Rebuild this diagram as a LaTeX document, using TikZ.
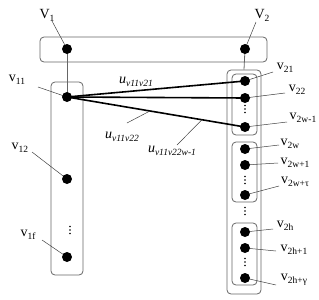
\documentclass[tikz,border=0pt]{standalone}
\usepackage{fontspec}
\setmainfont{Liberation Serif}
\newcommand\mysb[1]{\raisebox{-3pt}{\fontsize{9.5}{10}\selectfont #1}}
\begin{document}
\begin{tikzpicture}[x=1pt,y=-1pt,
  dot/.style={circle,fill=black,inner sep=0pt,minimum size=10pt},
  boxn/.style={draw=black!60,rounded corners=4pt,line width=0.8pt,rectangle,inner sep=0pt},
  lab/.style={font=\fontsize{14}{16}\selectfont,inner sep=0pt},
  lead/.style={draw=black!75,line width=0.5pt},
  conn/.style={draw=black!60,line width=0.8pt},
  edg/.style={draw=black,line width=1.6pt}]
\useasboundingbox (0,0) rectangle (319,300);
% boxes
\node[boxn,minimum width=227pt,minimum height=25pt] (top) at (153.5,49.5) {};
\node[boxn,minimum width=32pt,minimum height=193pt] (left) at (67,178.5) {};
\node[boxn,minimum width=34pt,minimum height=224pt] (outer) at (244,182) {};
\node[boxn,minimum width=25pt,minimum height=61pt] (in1) at (244.5,104.5) {};
\node[boxn,minimum width=25pt,minimum height=60pt] (in2) at (244.5,172) {};
\node[boxn,minimum width=25pt,minimum height=62pt] (in3) at (244.5,254) {};
% dot positions
\coordinate (p1) at (67,49);
\coordinate (p2) at (245,49);
\coordinate (p11) at (67,97);
\coordinate (p12) at (67,179);
\coordinate (p1f) at (67,257);
\coordinate (p21) at (245,81);
\coordinate (p22) at (245,98);
\coordinate (p2w1) at (245,127);
\coordinate (p2w) at (245,149);
\coordinate (p2wp) at (245,165);
\coordinate (p2wt) at (245,195);
\coordinate (p2h) at (245,232);
\coordinate (p2hp) at (245,248);
\coordinate (p2hg) at (245,278);
% labels
\node[lab] (lV1) at (47,15) {V\mysb{1}};
\node[lab] (lV2) at (262,15) {V\mysb{2}};
\node[lab] (l11) at (17,80) {v\mysb{11}};
\node[lab] (l12) at (20,148) {v\mysb{12}};
\node[lab] (l1f) at (28,235) {v\mysb{1f}};
\node[lab] (l21) at (285,68) {v\mysb{21}};
\node[lab] (l22) at (297,90) {v\mysb{22}};
\node[lab] (l2w1) at (303,118) {v\mysb{2w-1}};
\node[lab] (l2w) at (290,144) {v\mysb{2w}};
\node[lab] (l2wp) at (295,163) {v\mysb{2w+1}};
\node[lab] (l2wt) at (295,182) {v\mysb{2w+τ}};
\node[lab] (l2h) at (285,226) {v\mysb{2h}};
\node[lab] (l2hp) at (294,250) {v\mysb{2h+1}};
\node[lab] (l2hg) at (294,280) {v\mysb{2h+γ}};
% leader ends
\coordinate (a1) at (52,21);
\coordinate (a2) at (256,22);
\coordinate (a11) at (38,87);
\coordinate (a12) at (32,152);
\coordinate (a1f) at (42,240);
\coordinate (a21) at (273,72);
\coordinate (a22) at (285,93);
\coordinate (a2w1) at (287,122);
\coordinate (a2w) at (279,145);
\coordinate (a2wp) at (278,163);
\coordinate (a2wt) at (279,186);
\coordinate (a2h) at (273,229);
\coordinate (a2hp) at (276,251);
\coordinate (a2hg) at (276,285);
% connectors
\draw[conn] (p1) -- (p11);
\draw[conn] (p2) -- (outer.north);
\foreach \a/\b in {a1/p1,a2/p2,a11/p11,a12/p12,a1f/p1f,a21/p21,a22/p22,a2w1/p2w1,a2w/p2w,a2wp/p2wp,a2wt/p2wt,a2h/p2h,a2hp/p2hp,a2hg/p2hg}
  \draw[lead] (\a) -- (\b);
\draw[edg] (p11) -- (p21);
\draw[edg] (p11) -- (p22);
\draw[edg] (p11) -- (p2w1);
\path (p11) -- (p2w1) coordinate[pos=0.466] (e1) coordinate[pos=0.758] (e2);
\node[lab] (u1) at (136,82) {\textit{u}\mysb{\textit{v11v21}}};
\node[lab] (u2) at (122,137) {\textit{u}\mysb{\textit{v11v22}}};
\node[lab] (u3) at (172,151) {\textit{u}\mysb{\textit{v11v22w-1}}};
\coordinate (b2) at (127,123);
\coordinate (b3) at (177,145);
\draw[lead] (b2) -- (e1);
\draw[lead] (b3) -- (e2);
% dots
\foreach \p in {p1,p2,p11,p12,p1f,p21,p22,p2w1,p2w,p2wp,p2wt,p2h,p2hp,p2hg}
  \node[dot] (d\p) at (\p) {};
% vertical ellipses
\foreach \x/\y in {70/230,245/109,245/180,245/211,245/262}
  \foreach \k in {-3.5,0,3.5}
    \fill (\x,\y+\k) circle (0.9pt);
\end{tikzpicture}
\end{document}
